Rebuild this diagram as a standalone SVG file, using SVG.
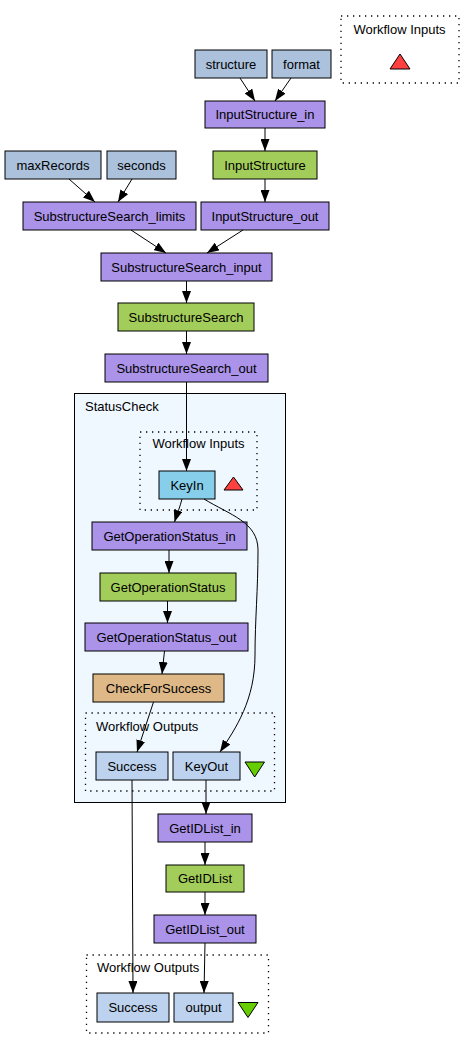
<svg xmlns="http://www.w3.org/2000/svg" width="475" height="1049" viewBox="0 0 475 1049">
<style>
text{font-family:"Liberation Sans",Arial,sans-serif;font-size:13px;fill:#000}
.c{text-anchor:middle}
.n{stroke:#000;stroke-width:1}
.in{fill:#abc1dc}
.xs{fill:#aa93e8}
.ws{fill:#a3cd5a}
.bs{fill:#deb887}
.ki{fill:#87ceeb}
.out{fill:#bcd2ee}
.dot{fill:none;stroke:#000;stroke-width:1.3;stroke-dasharray:1.3,4.7}
.e{fill:none;stroke:#000;stroke-width:1;marker-end:url(#ah)}
.tin{fill:#ff4040;stroke:#000}
.tout{fill:#66cd00;stroke:#000}
</style>
<defs>
<marker id="ah" viewBox="0 0 12 9" refX="12" refY="4.5" markerWidth="12" markerHeight="9" markerUnits="userSpaceOnUse" orient="auto">
<path d="M0,0 L12,4.5 L0,9 z" fill="#000"/>
</marker>
</defs>
<rect width="475" height="1049" fill="#fff"/>

<g id="workflow-inputs">
<rect class="dot" x="341" y="16" width="118" height="67"/>
<text class="c" x="399.5" y="33.5">Workflow Inputs</text>
<polygon class="tin" points="400,54 390,69 410,69"/>
</g>

<g id="structure"><rect class="n in" x="195" y="50" width="72" height="28"/><text class="c" x="231" y="68.5">structure</text></g>
<g id="format"><rect class="n in" x="272" y="50" width="59" height="28"/><text class="c" x="301.5" y="68.5">format</text></g>
<g id="InputStructure_in"><rect class="n xs" x="205" y="101" width="120" height="27"/><text class="c" x="265" y="119">InputStructure_in</text></g>
<g id="InputStructure"><rect class="n ws" x="213" y="151" width="104" height="28"/><text class="c" x="265" y="169.5">InputStructure</text></g>
<g id="maxRecords"><rect class="n in" x="5" y="151" width="96" height="28"/><text class="c" x="53" y="169.5">maxRecords</text></g>
<g id="seconds"><rect class="n in" x="107" y="151" width="69" height="28"/><text class="c" x="141.5" y="169.5">seconds</text></g>
<g id="SubstructureSearch_limits"><rect class="n xs" x="23" y="202" width="173" height="28"/><text class="c" x="109.5" y="220.5">SubstructureSearch_limits</text></g>
<g id="InputStructure_out"><rect class="n xs" x="201" y="202" width="128" height="28"/><text class="c" x="265" y="220.5">InputStructure_out</text></g>
<g id="SubstructureSearch_input"><rect class="n xs" x="101" y="253" width="171" height="28"/><text class="c" x="186.5" y="271.5">SubstructureSearch_input</text></g>
<g id="SubstructureSearch"><rect class="n ws" x="118" y="303" width="136" height="28"/><text class="c" x="186" y="321.5">SubstructureSearch</text></g>
<g id="SubstructureSearch_out"><rect class="n xs" x="105" y="354" width="163" height="28"/><text class="c" x="186.5" y="372.5">SubstructureSearch_out</text></g>

<g id="StatusCheck">
<rect x="74.5" y="393.5" width="211" height="409" fill="#eff7ff" stroke="#000" stroke-width="1"/>
<text x="85" y="410.5">StatusCheck</text>
<g id="StatusCheck-inputs">
<rect class="dot" x="140" y="432" width="117" height="78"/>
<text class="c" x="198.5" y="448">Workflow Inputs</text>
<polygon class="tin" points="233.5,477 224,490 243,490"/>
</g>
<g id="KeyIn"><rect class="n ki" x="159" y="471" width="56" height="28"/><text class="c" x="187" y="489.5">KeyIn</text></g>
<g id="GetOperationStatus_in"><rect class="n xs" x="92" y="522" width="155" height="28"/><text class="c" x="169.5" y="540.5">GetOperationStatus_in</text></g>
<g id="GetOperationStatus"><rect class="n ws" x="100" y="573" width="136" height="28"/><text class="c" x="168" y="591.5">GetOperationStatus</text></g>
<g id="GetOperationStatus_out"><rect class="n xs" x="85" y="623" width="163" height="28"/><text class="c" x="166.5" y="641.5">GetOperationStatus_out</text></g>
<g id="CheckForSuccess"><rect class="n bs" x="93" y="674" width="131" height="28"/><text class="c" x="158.5" y="692.5">CheckForSuccess</text></g>
<g id="StatusCheck-outputs">
<rect class="dot" x="85.5" y="713" width="189" height="78"/>
<text x="96" y="731">Workflow Outputs</text>
<polygon class="tout" points="245,762 264.5,762 254.7,777"/>
</g>
<g id="StatusCheck-Success"><rect class="n out" x="96" y="752" width="72" height="28"/><text class="c" x="132" y="770.5">Success</text></g>
<g id="KeyOut"><rect class="n out" x="173" y="752" width="67" height="28"/><text class="c" x="206.5" y="770.5">KeyOut</text></g>
</g>

<g id="GetIDList_in"><rect class="n xs" x="158" y="814" width="94" height="28"/><text class="c" x="205" y="832.5">GetIDList_in</text></g>
<g id="GetIDList"><rect class="n ws" x="166" y="865" width="78" height="27"/><text class="c" x="205" y="883">GetIDList</text></g>
<g id="GetIDList_out"><rect class="n xs" x="154" y="915" width="102" height="28"/><text class="c" x="205" y="933.5">GetIDList_out</text></g>

<g id="workflow-outputs">
<rect class="dot" x="86.5" y="955" width="182" height="78"/>
<text x="97" y="972">Workflow Outputs</text>
<polygon class="tout" points="238,1002.5 258,1002.5 248,1017.5"/>
</g>
<g id="Success"><rect class="n out" x="97" y="993" width="72" height="29"/><text class="c" x="133" y="1012">Success</text></g>
<g id="output"><rect class="n out" x="174" y="993" width="59" height="29"/><text class="c" x="203.5" y="1012">output</text></g>

<g id="connectors">
<path class="e" d="M240,78 L255,101"/>
<path class="e" d="M291,78 L275,101"/>
<path class="e" d="M265,128 L265,151"/>
<path class="e" d="M265,179 L265,202"/>
<path class="e" d="M69,179 L95,202"/>
<path class="e" d="M132,179 L118,202"/>
<path class="e" d="M131,230 L166,253"/>
<path class="e" d="M243,230 L207,253"/>
<path class="e" d="M186.5,281 L186.5,303"/>
<path class="e" d="M186.5,331 L186.5,354"/>
<path class="e" d="M186.5,382 L186.5,471"/>
<path class="e" d="M182,499 C180,507 177,514 174.5,522"/>
<path class="e" d="M204,499 C230,515 258,522 258,550 C258,590 255,620 255,655 C255,700 236,728 220,752"/>
<path class="e" d="M169,550 L169,573"/>
<path class="e" d="M167.5,601 L167.5,623"/>
<path class="e" d="M164.5,651 L162,674"/>
<path class="e" d="M153.5,702 L137,752"/>
<path class="e" d="M206,780 L206,814"/>
<path class="e" d="M205,842 L205,865"/>
<path class="e" d="M205,892 L205,915"/>
<path class="e" d="M205,943 L204,993"/>
<path class="e" d="M132,780 L133,993"/>
</g>
</svg>
